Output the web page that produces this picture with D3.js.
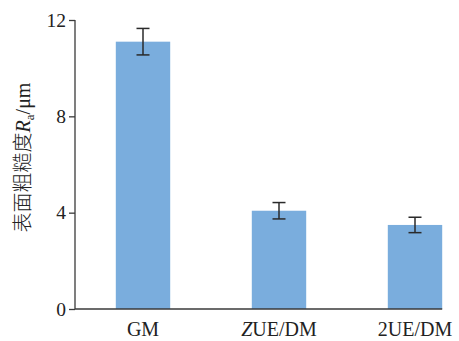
<!DOCTYPE html>
<html>
<head>
<meta charset="utf-8">
<script src="https://cdn.jsdelivr.net/npm/d3@7"></script>
<style>
  html, body { margin: 0; padding: 0; background: #fff; }
  svg { display: block; }
</style>
</head>
<body>
<svg id="chart" width="459" height="341"></svg>
<script>
// Surface roughness Ra (μm) per process, with standard deviation
const categories = ["GM", "ZUE/DM", "2UE/DM"];
const means = [11.1, 4.08, 3.49];
const errors = [0.55, 0.34, 0.32];
const yTicks = [0, 4, 8, 12];

const svg = d3.select("#chart");
const plotLeft = 75, plotBottom = 309, plotTop = 20;

const x = d3.scaleBand()
  .domain(categories)
  .range([plotLeft, plotLeft + 136 * 3])
  .paddingInner(0.6)
  .paddingOuter(0.3);

const y = d3.scaleLinear().domain([0, 12]).range([plotBottom, plotTop]);

const serif = "'Liberation Serif', 'Times New Roman', serif";
const axisColor = "#3a3a3a";

// bars
svg.append("g").selectAll("rect")
  .data(categories)
  .join("rect")
  .attr("x", d => x(d))
  .attr("width", x.bandwidth())
  .attr("y", (d, i) => y(means[i]))
  .attr("height", (d, i) => y(0) - y(means[i]))
  .attr("fill", "#7aaddd");

// error bars
const eb = svg.append("g").attr("stroke", "#2a2a2a").attr("stroke-width", 1.5);
categories.forEach((c, i) => {
  const cx = x(c) + x.bandwidth() / 2;
  const y0 = y(means[i] - errors[i]), y1 = y(means[i] + errors[i]);
  eb.append("line").attr("x1", cx).attr("x2", cx).attr("y1", y0).attr("y2", y1);
  eb.append("line").attr("x1", cx - 6.5).attr("x2", cx + 6.5).attr("y1", y0).attr("y2", y0);
  eb.append("line").attr("x1", cx - 6.5).attr("x2", cx + 6.5).attr("y1", y1).attr("y2", y1);
});

// y axis
const yAxis = d3.axisLeft(y).tickValues(yTicks).tickSize(6).tickPadding(3).tickFormat(d3.format("d"));
const gy = svg.append("g").attr("transform", `translate(${plotLeft},0)`).call(yAxis);
gy.select(".domain").attr("stroke", axisColor).attr("stroke-width", 1.3).attr("d", `M0,${plotTop}V${plotBottom}`);
gy.selectAll(".tick line").attr("stroke", axisColor).attr("stroke-width", 1.3);
gy.selectAll(".tick text").attr("font-family", serif).attr("font-size", 19.5).attr("fill", "#222");

// x axis baseline, ending at the last bar's right edge
const xEnd = x(categories[categories.length - 1]) + x.bandwidth();
svg.append("line")
  .attr("x1", plotLeft).attr("x2", xEnd)
  .attr("y1", plotBottom).attr("y2", plotBottom)
  .attr("stroke", axisColor).attr("stroke-width", 1.3);

// category labels
const xl = svg.append("g");
categories.forEach(c => {
  const t = xl.append("text")
    .attr("x", x(c) + x.bandwidth() / 2)
    .attr("y", 336)
    .attr("text-anchor", "middle")
    .attr("font-family", serif)
    .attr("font-size", 20)
    .attr("fill", "#222");
  if (c === "ZUE/DM") {
    t.append("tspan").attr("font-style", "italic").text("Z");
    t.append("tspan").text("UE/DM");
  } else {
    t.text(c);
  }
});

// y axis title
const yt = svg.append("text")
  .attr("transform", "translate(30,157.5) rotate(-90)")
  .attr("text-anchor", "middle")
  .attr("font-size", 20)
  .attr("fill", "#222");
yt.append("tspan").attr("font-family", "'Noto Sans CJK SC', sans-serif").attr("font-weight", 300).text("表面粗糙度");
yt.append("tspan").attr("font-family", serif).attr("font-style", "italic").text("R");
yt.append("tspan").attr("font-family", serif).attr("font-size", 13).attr("dy", 4).text("a");
yt.append("tspan").attr("font-family", serif).attr("dy", -4).text("/μm");
</script>
</body>
</html>
